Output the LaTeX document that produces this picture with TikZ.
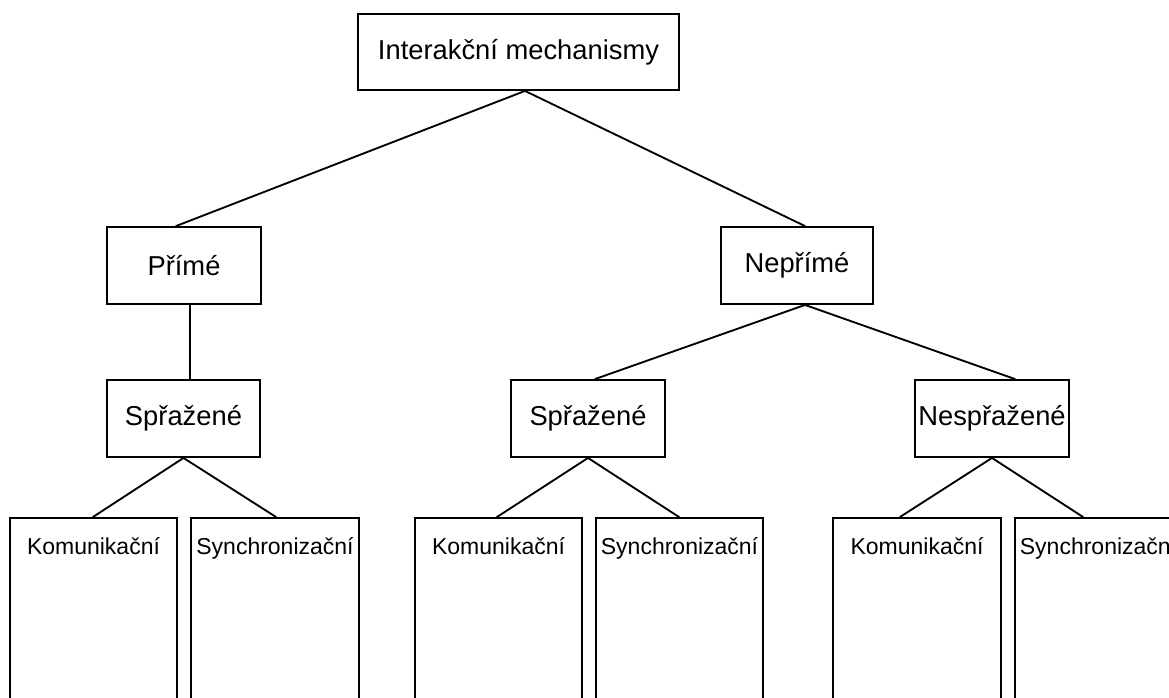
\documentclass[tikz,border=0pt]{standalone}
\usepackage{fontspec}
\setmainfont{Liberation Sans}
\usetikzlibrary{calc}
\tikzset{
  x=0.75pt, y=-0.75pt,
  conn/.style={line width=1.4pt, line cap=round},
  box/.style={draw, line width=1.4pt, inner sep=0pt, font=\fontsize{20.5}{24}\selectfont},
  leaf/.style={draw, line width=1.4pt, inner xsep=0pt, inner ysep=0pt, anchor=north,
    text height=37*0.75pt, text depth=170*0.75pt, font=\fontsize{17.25}{20}\selectfont},
}
\begin{document}
\begin{tikzpicture}
\useasboundingbox (0,0) rectangle (1169,698);
\clip (0,0) rectangle (1169,698);
\fill[white] (0,0) rectangle (1169,698);

% upper levels
\node[box, minimum width=321*0.75pt, minimum height=76*0.75pt] (root) at (518.5,52) {Interakční mechanismy};
\node[box, minimum width=154*0.75pt, minimum height=77*0.75pt] (prime) at (184,265.5) {Přímé};
\node[box, minimum width=152*0.75pt, minimum height=77*0.75pt] (neprime) at (797,265.5) {Nepřímé};
\node[box, minimum width=153*0.75pt, minimum height=77*0.75pt] (sprA) at (183.5,418.5) {Spřažené};
\node[box, minimum width=154*0.75pt, minimum height=77*0.75pt] (sprB) at (588,418.5) {Spřažené};
\node[box, minimum width=154*0.75pt, minimum height=77*0.75pt] (nespr) at (992,418.5) {Nespřažené};

% bottom level
\node[leaf, minimum width=167*0.75pt] (kA) at (93.5,517) {Komunikační};
\node[leaf, minimum width=168*0.75pt] (sA) at (275,517) {Synchronizační};
\node[leaf, minimum width=167*0.75pt] (kB) at (498.5,517) {Komunikační};
\node[leaf, minimum width=167*0.75pt] (sB) at (679.5,517) {Synchronizační};
\node[leaf, minimum width=168*0.75pt] (kC) at (917,517) {Komunikační};
\node[leaf, minimum width=167*0.75pt] (sC) at (1098.5,517) {Synchronizační};

% connectors
\coordinate (rj) at ($(root.south)+(6.5,0)$);
\draw[conn] (rj) -- ($(prime.north)+(-8,0)$);
\draw[conn] (rj) -- ($(neprime.north)+(8,0)$);
\draw[conn] ($(prime.south)+(6,0)$) -- ($(sprA.north)+(6.5,0)$);
\coordinate (nj) at ($(neprime.south)+(8,0)$);
\draw[conn] (nj) -- ($(sprB.north)+(7,0)$);
\draw[conn] (nj) -- ($(nespr.north)+(23,0)$);
\draw[conn] (sprA.south) -- ($(kA.north)+(-0.5,0)$);
\draw[conn] (sprA.south) -- ($(sA.north)+(1,0)$);
\draw[conn] (sprB.south) -- ($(kB.north)+(-1.5,0)$);
\draw[conn] (sprB.south) -- ($(sB.north)+(-0.5,0)$);
\draw[conn] (nespr.south) -- ($(kC.north)+(-17,0)$);
\draw[conn] (nespr.south) -- ($(sC.north)+(-15.5,0)$);
\end{tikzpicture}
\end{document}
